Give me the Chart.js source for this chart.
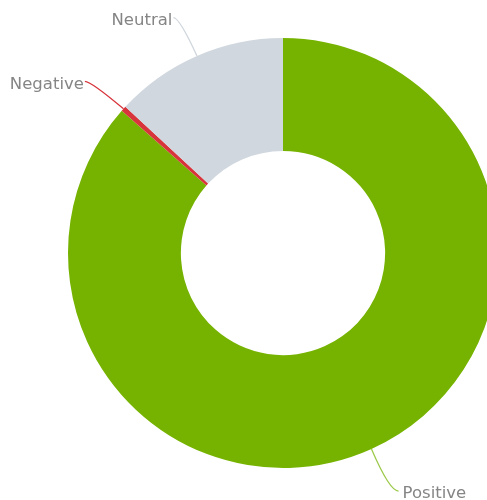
<!DOCTYPE html>
<html>
<head>
<meta charset="utf-8">
<script src="https://cdn.jsdelivr.net/npm/chart.js@4"></script>
<style>
    html, body { margin: 0; padding: 0; background: #fff; overflow: hidden; }
    #wrap { width: 487px; height: 500px; overflow: hidden; }
</style>
</head>
<body>
<div id="wrap"><canvas id="sentimentChart" width="566" height="500"></canvas></div>
<script>
const categories = ['Positive', 'Negative', 'Neutral'];
const shares = [86.5, 0.4, 13.1];
const sliceColors = ['#76b300', '#d7343c', '#d0d7de'];
const connectorColors = ['#9cc94a', '#d7343c', '#cfd6dc'];

// draws the outside labels with their small bent connectors
const sliceLabels = {
    id: 'sliceLabels',
    afterDatasetsDraw(chart) {
        const ctx = chart.ctx;
        const meta = chart.getDatasetMeta(0);
        ctx.save();
        ctx.font = '16.5px "DejaVu Sans", sans-serif';
        ctx.textBaseline = 'middle';
        meta.data.forEach((arc, i) => {
            const mid = (arc.startAngle + arc.endAngle) / 2;
            const cos = Math.cos(mid);
            const sin = Math.sin(mid);
            const r = arc.outerRadius;
            const x0 = arc.x + cos * r;
            const y0 = arc.y + sin * r;
            const x1 = arc.x + cos * (r + 44);
            const y1 = arc.y + sin * (r + 44) + 2;
            const side = cos < 0 ? -1 : 1;
            const x2 = x1 + side * (side < 0 ? 6 : 9);

            ctx.strokeStyle = connectorColors[i];
            ctx.lineWidth = 1.3;
            ctx.beginPath();
            ctx.moveTo(x0, y0);
            ctx.quadraticCurveTo(x1, y1, x2, y1);
            ctx.stroke();

            ctx.fillStyle = '#858585';
            ctx.textAlign = side < 0 ? 'right' : 'left';
            ctx.fillText(categories[i], x2 + side * (side < 0 ? 1 : 4), y1 + 3);
        });
        ctx.restore();
    }
};

new Chart(document.getElementById('sentimentChart'), {
    type: 'doughnut',
    data: {
        labels: categories,
        datasets: [{
            data: shares,
            backgroundColor: sliceColors,
            borderWidth: 0,
            hoverOffset: 0
        }]
    },
    options: {
        responsive: false,
        animation: false,
        cutout: '47.5%',
        layout: {
            padding: { top: 38, bottom: 32, left: 0, right: 0 }
        },
        plugins: {
            legend: { display: false },
            tooltip: { enabled: false }
        }
    },
    plugins: [sliceLabels]
});
</script>
</body>
</html>
